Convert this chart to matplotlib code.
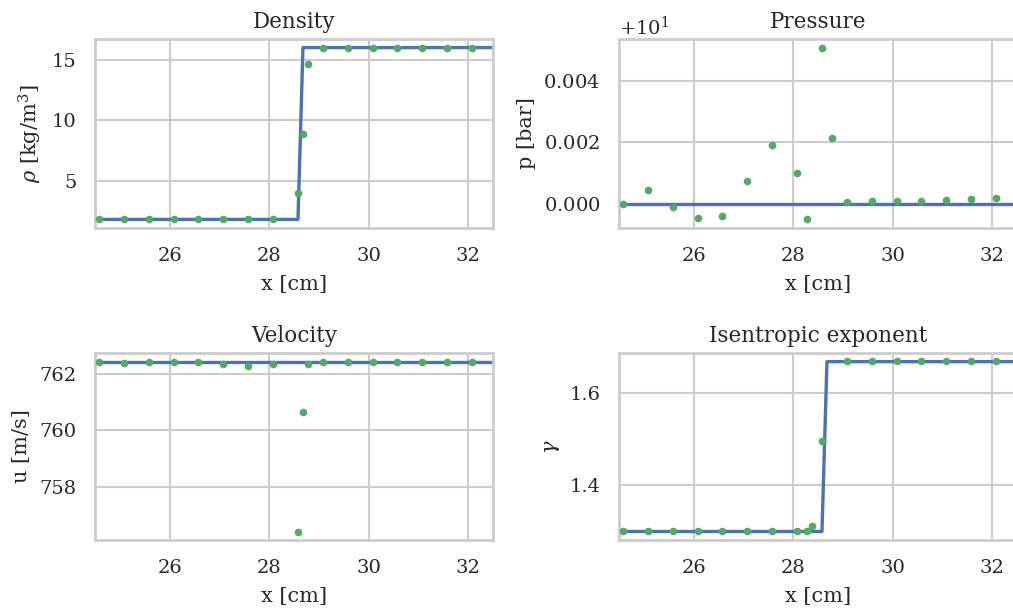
import numpy as np
import matplotlib
matplotlib.use("Agg")
import matplotlib.pyplot as plt
import seaborn as sns

sns.set_theme(style="whitegrid")
plt.rcParams['font.family'] = ['DejaVu Serif']
plt.rcParams['mathtext.fontset'] = 'dejavuserif'

# ---- data ----
# reference (exact) solution profiles
line_x = [24.0, 28.58, 28.68, 33.0]
rho_line = [1.78, 1.78, 16.0, 16.0]
p_line = [10.0, 10.0, 10.0, 10.0]
u_line = [762.42, 762.42, 762.42, 762.42]
gamma_line = [1.3, 1.3, 5.0 / 3.0, 5.0 / 3.0]

# simulated sample points
rho_x = [24.58, 25.08, 25.58, 26.08, 26.58, 27.08, 27.58, 28.08, 28.58, 28.68, 28.78,
         29.08, 29.58, 30.08, 30.58, 31.08, 31.58, 32.08]
rho_pts = [1.78, 1.78, 1.78, 1.78, 1.78, 1.78, 1.78, 1.78, 4.0, 8.81, 14.64,
           16.0, 16.0, 16.0, 16.0, 16.0, 16.0, 16.0]

p_x = [24.58, 25.08, 25.58, 26.08, 26.58, 27.08, 27.58, 28.08, 28.28, 28.58, 28.78,
       29.08, 29.58, 30.08, 30.58, 31.08, 31.58, 32.08]
p_pts = [10.0, 10.00045, 9.99991, 9.99956, 9.99961, 10.00074, 10.00191, 10.00099,
         9.99950, 10.00507, 10.00213, 10.000065, 10.00009, 10.00009, 10.0001,
         10.00013, 10.00017, 10.00019]

u_x = [24.58, 25.08, 25.58, 26.08, 26.58, 27.08, 27.58, 28.08, 28.58, 28.68, 28.78,
       29.08, 29.58, 30.08, 30.58, 31.08, 31.58, 32.08]
u_pts = [762.42, 762.37, 762.42, 762.44, 762.44, 762.36, 762.28, 762.36, 756.41, 760.65,
         762.36, 762.42, 762.42, 762.42, 762.42, 762.42, 762.42, 762.42]

g_x = [24.58, 25.08, 25.58, 26.08, 26.58, 27.08, 27.58, 28.08, 28.28, 28.38, 28.58,
       29.08, 29.58, 30.08, 30.58, 31.08, 31.58, 32.08]
g_pts = [1.3, 1.3, 1.3, 1.3, 1.3, 1.3, 1.3, 1.3, 1.302, 1.312, 1.495,
         1.667, 1.667, 1.667, 1.667, 1.667, 1.667, 1.667]

titles = ["Density", "Pressure", "Velocity", "Isentropic exponent"]
ylabels = [r"$\rho$ [kg/m$^3$]", "p [bar]", "u [m/s]", r"$\gamma$"]
xlabel = "x [cm]"
xlim = (24.5, 32.5)

W, H = 1013, 614
fig = plt.figure(figsize=(W / 100, H / 100), dpi=100)

# axes boxes in pixels: (left, top, right, bottom)
boxes = [(95, 39, 493, 228), (619, 39, 1017, 228),
         (95, 353, 493, 540), (619, 353, 1017, 540)]

series = [(line_x, rho_line, rho_x, rho_pts),
          (line_x, p_line, p_x, p_pts),
          (line_x, u_line, u_x, u_pts),
          (line_x, gamma_line, g_x, g_pts)]

text_color = "#262626"
for i, (box, (lx, ly, px, py)) in enumerate(zip(boxes, series)):
    l, t, r, b = box
    ax = fig.add_axes([l / W, 1 - b / H, (r - l) / W, (b - t) / H])
    ax.plot(lx, ly, color="#4C72B0", lw=2.4, zorder=2)
    ax.plot(px, py, 'o', color="#55A868", ms=5.5, zorder=3, markeredgewidth=0)
    ax.set_xlim(*xlim)
    ax.set_xticks([26, 28, 30, 32])
    ax.set_title(titles[i], fontsize=15.5, color=text_color, pad=7.7)
    ax.set_xlabel(xlabel, fontsize=15, color=text_color, labelpad=7.5)
    ax.set_ylabel(ylabels[i], fontsize=15, color=text_color, labelpad=5.5)
    ax.tick_params(labelsize=14, colors=text_color, pad=7.5)
    for s in ax.spines.values():
        s.set_color("#cccccc")
        s.set_linewidth(2.0)
    ax.grid(color="#cccccc", lw=1.5)
    # y-limits from data with default margins
    ys = list(ly) + list(py)
    lo, hi = min(ys), max(ys)
    m = 0.05 * (hi - lo)
    ax.set_ylim(lo - m, hi + m)
    if i == 0:
        ax.set_yticks([5, 10, 15])
    elif i == 1:
        fmt = matplotlib.ticker.ScalarFormatter(useOffset=10.0, useMathText=True)
        ax.yaxis.set_major_formatter(fmt)
        ax.set_yticks([10.0, 10.002, 10.004])
        ax.yaxis.get_offset_text().set_fontsize(14)
    elif i == 2:
        ax.set_yticks([758, 760, 762])
    else:
        ax.set_yticks([1.4, 1.6])

fig.savefig("out.png", dpi=100)
